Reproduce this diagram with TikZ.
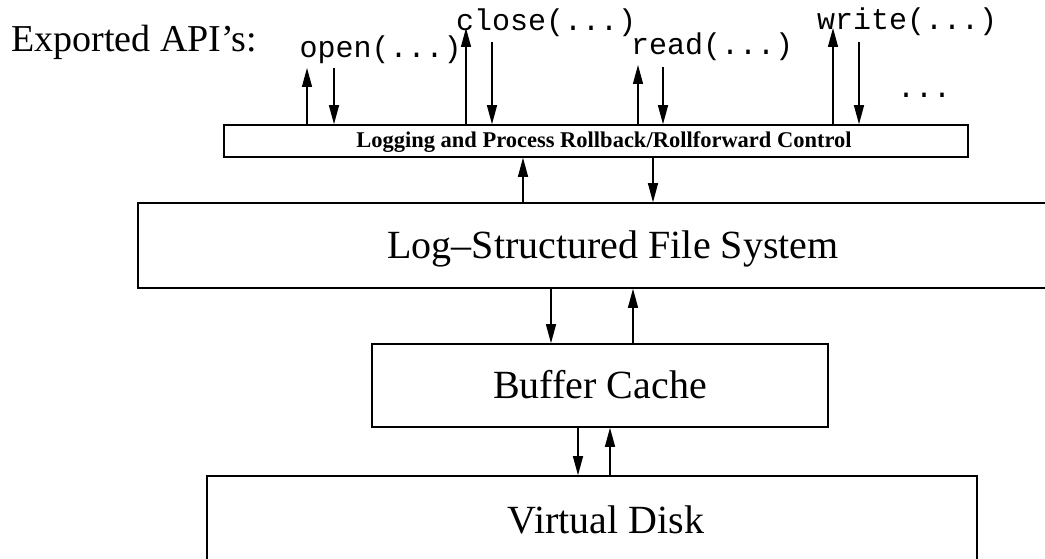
\documentclass[tikz,border=0pt]{standalone}
\usepackage{fontspec}
\setmainfont{Liberation Serif}
\setmonofont{Liberation Mono}
\usetikzlibrary{arrows.meta}
\begin{document}
\begin{tikzpicture}[x=1pt,y=-1pt,
  box/.style={draw,line width=1.6pt,inner sep=0pt,rectangle},
  big/.style={font=\fontsize{40}{48}\selectfont},
  api/.style={font=\ttfamily\fontsize{30}{36}\selectfont,anchor=base west,inner sep=0pt},
  flow/.style={line width=1.3pt,-{Triangle[length=19pt,width=10pt]}}]
\clip (0,0) rectangle (1045,559);
\fill[white] (0,0) rectangle (1045,559);

% layers
\node[box,minimum width=744pt,minimum height=32pt] (log) at (596,141) {};
\node[font=\bfseries\fontsize{22.5}{27}\selectfont,anchor=base,inner sep=0pt] (logtxt) at (604,148)
  {Logging and Process Rollback/Rollforward Control};
\node[box,big,minimum width=950pt,minimum height=85pt,text height=26.6pt,text depth=0pt]
  (lfs) at (613,245.5) {Log–Structured File System};
\node[box,big,minimum width=456pt,minimum height=83pt,text height=26.6pt,text depth=0pt]
  (cache) at (600,385.5) {Buffer Cache};
\node[box,minimum width=770pt,minimum height=87pt] (vdisk) at (592,519.5) {};
\node[big,anchor=base,inner sep=0pt] (vdtxt) at (606,533) {Virtual Disk};

% exported calls
\node[anchor=base west,inner sep=0pt,font=\fontsize{38}{46}\selectfont] (title) at (11,52) {Exported API’s:};
\node[api] (open) at (299.5,58) {open(...)};
\node[api] (close) at (456,31) {close(...)};
\node[api] (read) at (631,55) {read(...)};
\node[api] (write) at (817,30) {write(...)};
\node[api] (more) at (897,98) {...};

% arrow ends above the control layer
\coordinate (openUp) at (307,68);
\coordinate (openDn) at (334,68);
\coordinate (closeUp) at (466,28);
\coordinate (closeDn) at (492,42);
\coordinate (readUp) at (638,65);
\coordinate (readDn) at (663,67);
\coordinate (writeUp) at (833,28);
\coordinate (writeDn) at (859,42);

\draw[flow] (log.north -| openUp) -- (openUp);
\draw[flow] (openDn) -- (log.north -| openDn);
\draw[flow] (log.north -| closeUp) -- (closeUp);
\draw[flow] (closeDn) -- (log.north -| closeDn);
\draw[flow] (log.north -| readUp) -- (readUp);
\draw[flow] (readDn) -- (log.north -| readDn);
\draw[flow] (log.north -| writeUp) -- (writeUp);
\draw[flow] (writeDn) -- (log.north -| writeDn);

% vertical channels between layers
\coordinate (c1) at (523,0);
\coordinate (c2) at (653,0);
\coordinate (c3) at (551,0);
\coordinate (c4) at (633,0);
\coordinate (c5) at (578,0);
\coordinate (c6) at (610,0);

\draw[flow] (lfs.north -| c1) -- (log.south -| c1);
\draw[flow] (log.south -| c2) -- (lfs.north -| c2);
\draw[flow] (lfs.south -| c3) -- (cache.north -| c3);
\draw[flow] (cache.north -| c4) -- (lfs.south -| c4);
\draw[flow] (cache.south -| c5) -- (vdisk.north -| c5);
\draw[flow] (vdisk.north -| c6) -- (cache.south -| c6);
\end{tikzpicture}
\end{document}
